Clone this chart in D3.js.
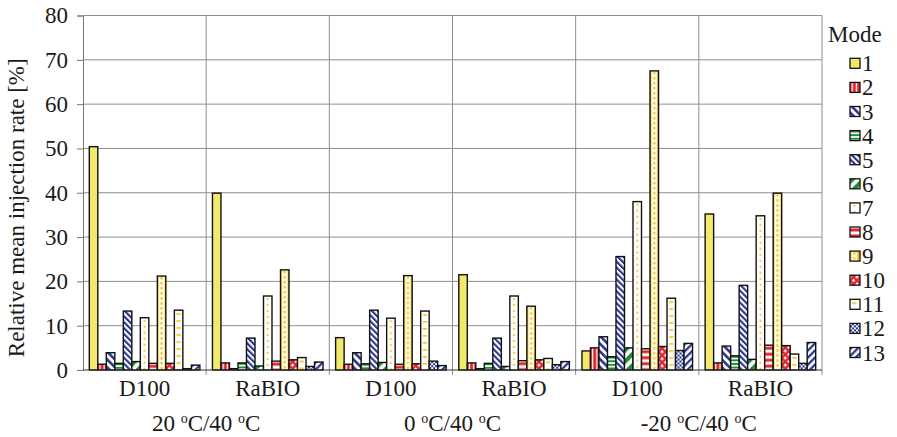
<!DOCTYPE html>
<html>
<head>
<meta charset="utf-8">
<script src="https://cdn.jsdelivr.net/npm/d3@7"></script>
<style>
  html, body { margin: 0; padding: 0; background: #fff; }
  svg { display: block; }
  text { font-family: "Liberation Serif", "Times New Roman", serif; fill: #1a1a1a; }
</style>
</head>
<body>
<svg id="chart" width="897" height="437"></svg>
<script>
// Relative mean injection rate per injection mode, for two fuels at three temperature pairs
const modes = ["1","2","3","4","5","6","7","8","9","10","11","12","13"];
const fuels = ["D100", "RaBIO", "D100", "RaBIO", "D100", "RaBIO"];
const conditions = ["20 |C/40 |C", "0 |C/40 |C", "-20 |C/40 |C"];
const yTicks = [0, 10, 20, 30, 40, 50, 60, 70, 80];

const d100_20   = [50.4, 1.3, 3.9, 1.5, 13.3, 1.9, 11.8, 1.5, 21.2, 1.5, 13.5, 0.3, 1.1];
const rabio_20  = [39.9, 1.6, 0.3, 1.6, 7.2, 0.9, 16.7, 2.0, 22.6, 2.3, 2.8, 0.8, 1.8];
const d100_0    = [7.3, 1.3, 3.9, 1.4, 13.5, 1.7, 11.7, 1.3, 21.3, 1.4, 13.3, 2.0, 1.0];
const rabio_0   = [21.5, 1.6, 0.3, 1.5, 7.2, 0.8, 16.7, 2.1, 14.4, 2.3, 2.6, 1.2, 1.9];
const d100_m20  = [4.3, 5.0, 7.5, 3.0, 25.6, 5.0, 38.0, 4.8, 67.5, 5.3, 16.2, 4.4, 6.0];
const rabio_m20 = [35.2, 1.6, 5.4, 3.2, 19.1, 2.4, 34.8, 5.6, 39.9, 5.5, 3.6, 1.5, 6.2];

const groups = [d100_20, rabio_20, d100_0, rabio_0, d100_m20, rabio_m20];

const svg = d3.select("#chart");
const margin = { left: 83, right: 75, top: 15.5, bottom: 67 };
const W = 897, H = 437;
const plotL = margin.left, plotR = W - margin.right, plotT = margin.top, plotB = H - margin.bottom;
const FS = "23px";

const y = d3.scaleLinear().domain([0, 80]).range([plotB, plotT]);
const x0 = d3.scaleBand().domain(d3.range(groups.length)).range([plotL, plotR]).padding(0);
const x1 = d3.scaleBand().domain(modes).range([0, x0.bandwidth()]).paddingInner(0).paddingOuter(0.74);
const bw = x1.bandwidth();

const C = { yellow: "#f2e96c", red: "#e3262a", blue: "#28358f", green: "#1f8c34", gold: "#f4c300", white: "#ffffff" };

// ---- fill patterns for the 13 modes ----
const defs = svg.append("defs");
function pat(id, w, h, bg, transform) {
  const p = defs.append("pattern").attr("id", id).attr("patternUnits", "userSpaceOnUse")
    .attr("width", w).attr("height", h);
  if (transform) p.attr("patternTransform", transform);
  p.append("rect").attr("width", w).attr("height", h).attr("fill", bg);
  return p;
}
let p;
// 2: red with thin white verticals
p = pat("m2", bw / 2, 10, C.red); p.append("rect").attr("x", 1.5).attr("width", 1.3).attr("height", 10).attr("fill", C.white);
// 3: blue diagonal stripes, wide spacing
p = pat("m3", 5.5, 5.5, C.white, "rotate(-45)"); p.append("rect").attr("width", 2.6).attr("height", 5.5).attr("fill", C.blue);
// 4: green horizontal stripes
p = pat("m4", 10, 3.6, C.white); p.append("rect").attr("width", 10).attr("height", 1.9).attr("fill", C.green);
// 5: blue diagonal stripes, dense
p = pat("m5", 4.2, 4.2, C.white, "rotate(-45)"); p.append("rect").attr("width", 2.1).attr("height", 4.2).attr("fill", C.blue);
// 6: coarse green diagonal
p = pat("m6", 8, 8, C.white, "rotate(45)"); p.append("rect").attr("width", 4.2).attr("height", 8).attr("fill", C.green);
// 7: yellow dots down the middle
p = pat("m7", bw, 6, C.white); p.append("circle").attr("cx", bw / 2).attr("cy", 3).attr("r", 1.1).attr("fill", C.gold);
// 8: wide red horizontal bands
p = pat("m8", 10, 6, C.white); p.append("rect").attr("y", 1.5).attr("width", 10).attr("height", 3).attr("fill", C.red);
// 9: gold edges with a dashed gold centre line
p = pat("m9", bw, 5, C.white);
p.append("rect").attr("x", 0).attr("width", 1.4).attr("height", 5).attr("fill", C.gold);
p.append("rect").attr("x", bw - 1.4).attr("width", 1.4).attr("height", 5).attr("fill", C.gold);
p.append("rect").attr("x", bw / 2 - 1).attr("y", 1).attr("width", 2).attr("height", 2.6).attr("fill", C.gold);
// 10: red with white diamonds
p = pat("m10", 5, 5, C.red, "rotate(45)"); p.append("rect").attr("width", 2.5).attr("height", 2.5).attr("fill", C.white);
// 11: short gold horizontal dashes
p = pat("m11", bw, 7, C.white); p.append("rect").attr("x", bw * 0.25).attr("y", 3).attr("width", bw * 0.5).attr("height", 1.6).attr("fill", C.gold);
// 12: blue checker
p = pat("m12", 4, 4, C.blue); p.append("rect").attr("width", 2).attr("height", 2).attr("fill", C.white);
p.append("rect").attr("x", 2).attr("y", 2).attr("width", 2).attr("height", 2).attr("fill", C.white);
// 13: blue diagonal the other way
p = pat("m13", 5, 5, C.white, "rotate(45)"); p.append("rect").attr("width", 2.3).attr("height", 5).attr("fill", C.blue);

const fillFor = (i) => i === 0 ? C.yellow : `url(#m${i + 1})`;

// ---- grid ----
const grid = svg.append("g");
grid.selectAll("line.h").data(yTicks.filter(t => t > 0)).join("line")
  .attr("x1", plotL).attr("x2", plotR).attr("y1", d => y(d)).attr("y2", d => y(d))
  .attr("stroke", "#8e8e8e").attr("stroke-width", 1);
grid.selectAll("line.v").data(d3.range(1, groups.length + 1)).join("line")
  .attr("x1", d => x0(0) + d * x0.step()).attr("x2", d => x0(0) + d * x0.step())
  .attr("y1", plotT).attr("y2", plotB + 5)
  .attr("stroke", "#8e8e8e").attr("stroke-width", 1);

// ---- bars ----
const gGroups = svg.append("g").selectAll("g").data(groups).join("g")
  .attr("transform", (d, i) => `translate(${x0(i)},0)`);
gGroups.selectAll("g.bar").data(d => d.map((v, i) => ({ v, i }))).join("g")
  .attr("class", "bar")
  .attr("transform", d => `translate(${x1(modes[d.i])},${y(d.v)})`)
  .append("rect")
  .attr("width", bw).attr("height", d => y(0) - y(d.v))
  .attr("fill", d => fillFor(d.i))
  .attr("stroke", "#111").attr("stroke-width", 1.4);

// ---- axes ----
const yAxis = svg.append("g").attr("transform", `translate(${plotL},0)`)
  .call(d3.axisLeft(y).tickValues(yTicks).tickSize(6).tickPadding(9));
yAxis.select(".domain").attr("stroke", "#777");
yAxis.selectAll(".tick line").attr("stroke", "#777");
yAxis.selectAll(".tick text").style("font-family", "Liberation Serif").style("font-size", FS).attr("fill", "#1a1a1a");

svg.append("line").attr("x1", plotL).attr("x2", plotR).attr("y1", plotB).attr("y2", plotB)
  .attr("stroke", "#333").attr("stroke-width", 1.2);

// fuel labels
svg.append("g").selectAll("text").data(fuels).join("text")
  .attr("x", (d, i) => x0(i) + x0.bandwidth() / 2).attr("y", 396)
  .attr("text-anchor", "middle").style("font-size", FS).text(d => d);

// temperature labels with raised "o"
const cond = svg.append("g").selectAll("text").data(conditions).join("text")
  .attr("x", (d, i) => x0(i * 2) + x0.step()).attr("y", 431)
  .attr("text-anchor", "middle").style("font-size", FS);
cond.each(function (d) {
  const t = d3.select(this);
  d.split("|").forEach((part, k) => {
    if (k > 0) {
      t.append("tspan").attr("dy", -8).style("font-size", "14px").text("o");
      t.append("tspan").attr("dy", 8).text(part);
    } else {
      t.append("tspan").text(part);
    }
  });
});

// y title
svg.append("text").attr("transform", `translate(24,${(plotT + plotB) / 2 + 15}) rotate(-90)`)
  .attr("text-anchor", "middle").style("font-size", FS)
  .text("Relative mean injection rate  [%]");

// ---- legend ----
const leg = svg.append("g");
leg.append("text").attr("x", 828).attr("y", 42).style("font-size", FS).text("Mode");
const rows = leg.selectAll("g.item").data(modes).join("g").attr("class", "item")
  .attr("transform", (d, i) => `translate(850,${63.3 + i * 24.1})`);
rows.append("g").attr("transform", "translate(0,-5)")
  .append("rect").attr("width", 10).attr("height", 10)
  .attr("fill", (d, i) => fillFor(i)).attr("stroke", "#111").attr("stroke-width", 1.3);
rows.append("text").attr("x", 12).attr("y", 0).attr("dy", "0.35em").style("font-size", FS).text(d => d);
</script>
</body>
</html>
